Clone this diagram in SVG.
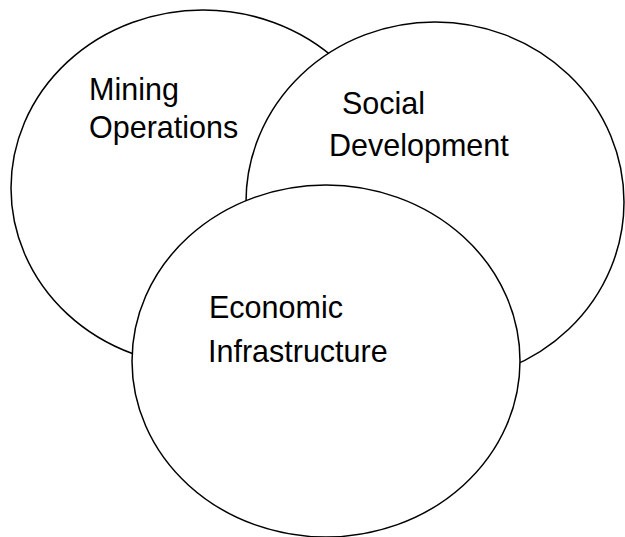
<svg xmlns="http://www.w3.org/2000/svg" width="625" height="537" viewBox="0 0 625 537">
  <style>
    .ring { fill: #ffffff; stroke: #000000; stroke-width: 1.5; }
    .label { font-family: "Liberation Sans", Arial, sans-serif; font-size: 30.5px; fill: #000000; }
  </style>
  <rect width="625" height="537" fill="#ffffff"/>
  <g id="mining-operations">
    <ellipse class="ring" cx="203" cy="188" rx="192" ry="178"/>
    <text class="label" x="89" y="100">Mining</text>
    <text class="label" x="89" y="138">Operations</text>
  </g>
  <g id="social-development">
    <ellipse class="ring" cx="435" cy="202" rx="189" ry="180"/>
    <text class="label" x="342" y="114">Social</text>
    <text class="label" x="329" y="156">Development</text>
  </g>
  <g id="economic-infrastructure">
    <ellipse class="ring" cx="326" cy="361" rx="194" ry="176"/>
    <text class="label" x="209" y="318">Economic</text>
    <text class="label" x="208" y="362">Infrastructure</text>
  </g>
  <g id="connectors"/>
</svg>
